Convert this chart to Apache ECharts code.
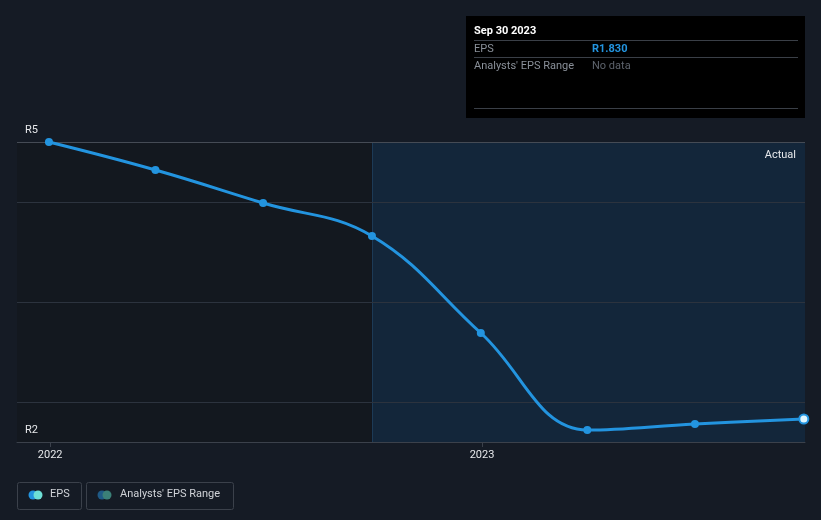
<!DOCTYPE html>
<html><head><meta charset="utf-8">
<script src="https://cdn.jsdelivr.net/npm/echarts@6/dist/echarts.min.js"></script>
<style>html,body{margin:0;padding:0;background:#151b25;}#c{width:821px;height:520px;}</style>
</head><body><div id="c"></div>
<script>
const dates = ['2021-12-31','2022-03-31','2022-06-30','2022-09-30','2022-12-31','2023-03-31','2023-06-30','2023-09-30'];
const eps = [4.60, 4.32, 3.99, 3.66, 2.69, 1.72, 1.78, 1.83];
const xTickLabels = ['2022','2023'];
const yMin = 1.6, yMax = 4.6;
const gridValues = [2, 3, 4];
const actualStart = '2022-09-30';
const axisStart = '2021-12-04';
const axisEnd = '2023-10-01';

const ts = s => Date.parse(s + 'T00:00:00Z');
const xTicks = xTickLabels.map(y => ts(y + '-01-01'));
const chart = echarts.init(document.getElementById('c'), null, {renderer:'canvas'});
const font = 'Roboto, "Open Sans", sans-serif';
chart.setOption({
  backgroundColor: '#151b25',
  animation: false,
  grid: {left: 17, right: 16, top: 142, bottom: 78},
  xAxis: {
    type: 'value', min: ts(axisStart), max: ts(axisEnd), z: 10,
    axisLine: {show: true, lineStyle: {color: '#3b414b', width: 1}},
    axisTick: {show: true, length: 5, lineStyle: {color: '#3b414b'}, customValues: xTicks},
    axisLabel: {color: '#e6e8eb', fontSize: 11, fontFamily: font, margin: 8,
      customValues: xTicks,
      formatter: v => String(new Date(v).getUTCFullYear())},
    splitLine: {show: false}
  },
  yAxis: {
    type: 'value', min: yMin, max: yMax, z: 10,
    axisLine: {show: false}, axisTick: {show: false},
    axisLabel: {inside: true, color: '#e6e8eb', fontSize: 11, fontFamily: font, margin: 8,
      customValues: [yMin, yMax], hideOverlap: false,
      verticalAlign: 'bottom', padding: [0,0,6,0],
      formatter: v => 'R' + Math.round(v)},
    splitLine: {show: false}
  },
  series: [{
    type: 'line', data: [], silent: true,
    markArea: {silent: true, itemStyle: {color: '#13181f'},
      data: [[{xAxis: ts(axisStart)}, {xAxis: ts(actualStart)}]]},
    markLine: {silent: true, symbol: 'none', label: {show: false},
      lineStyle: {color: '#1c3a56', type: 'solid', width: 1},
      data: [{xAxis: ts(actualStart)}]}
  }, {
    type: 'line', smooth: 0.4,
    data: dates.map((d,i) => ({value: [ts(d), eps[i]],
      symbolSize: i === dates.length-1 ? 9 : 8,
      itemStyle: i === dates.length-1 ? {color: '#e0f6ff', borderColor: '#2394df', borderWidth: 2} : undefined})),
    symbol: 'circle', symbolSize: 8,
    lineStyle: {color: '#2394df', width: 3},
    itemStyle: {color: '#2394df'},
    z: 5,
    markArea: {silent: true, itemStyle: {color: '#13263a'},
      label: {show: true, position: 'insideTopRight', color: '#e6e8eb', fontSize: 11, fontFamily: font, offset: [-4, 3]},
      data: [[{xAxis: ts(actualStart), name: 'Actual'}, {xAxis: ts(axisEnd)}]]},
    markLine: {silent: true, symbol: 'none', label: {show: false},
      lineStyle: {color: '#2c333e', type: 'solid', width: 1},
      data: gridValues.map(v => ({yAxis: v})).concat([{yAxis: yMax, lineStyle: {color: '#454b55'}}])}
  }],
  graphic: [
    {type: 'rect', shape: {x: 466, y: 16, width: 339, height: 102}, style: {fill: '#000000'}},
    {type: 'text', left: 474, top: 26, style: {text: 'Sep 30 2023', fill: '#ffffff', font: 'bold 11px ' + font}},
    {type: 'line', shape: {x1: 474, y1: 40.5, x2: 798, y2: 40.5}, style: {stroke: '#3a3f47', lineWidth: 1}},
    {type: 'text', left: 474, top: 44, style: {text: 'EPS', fill: '#8a9099', font: '11px ' + font}},
    {type: 'text', left: 592, top: 44, style: {text: 'R1.830', fill: '#2394df', font: 'bold 11px ' + font}},
    {type: 'line', shape: {x1: 474, y1: 57.5, x2: 798, y2: 57.5}, style: {stroke: '#3a3f47', lineWidth: 1}},
    {type: 'text', left: 474, top: 61, style: {text: "Analysts' EPS Range", fill: '#8a9099', font: '11px ' + font}},
    {type: 'text', left: 592, top: 61, style: {text: 'No data', fill: '#5d636c', font: '11px ' + font}},
    {type: 'line', shape: {x1: 474, y1: 108.5, x2: 798, y2: 108.5}, style: {stroke: '#3a3f47', lineWidth: 1}},
    {type: 'rect', shape: {x: 17.5, y: 482.5, width: 64, height: 27, r: 2}, style: {fill: 'none', stroke: '#3b414b', lineWidth: 1}},
    {type: 'circle', shape: {cx: 33, cy: 495, r: 4.5}, style: {fill: '#2394df'}},
    {type: 'circle', shape: {cx: 38, cy: 495, r: 4.5}, style: {fill: '#6ee0d6'}},
    {type: 'text', left: 50, top: 489, style: {text: 'EPS', fill: '#d0d3d8', font: '11px ' + font}},
    {type: 'rect', shape: {x: 86.5, y: 482.5, width: 147, height: 27, r: 2}, style: {fill: 'none', stroke: '#3b414b', lineWidth: 1}},
    {type: 'circle', shape: {cx: 102, cy: 495, r: 4.5}, style: {fill: '#1f5a86'}},
    {type: 'circle', shape: {cx: 107, cy: 495, r: 4.5}, style: {fill: '#3b8078'}},
    {type: 'text', left: 120, top: 489, style: {text: "Analysts' EPS Range", fill: '#d0d3d8', font: '11px ' + font}}
  ]
});
</script></body></html>
